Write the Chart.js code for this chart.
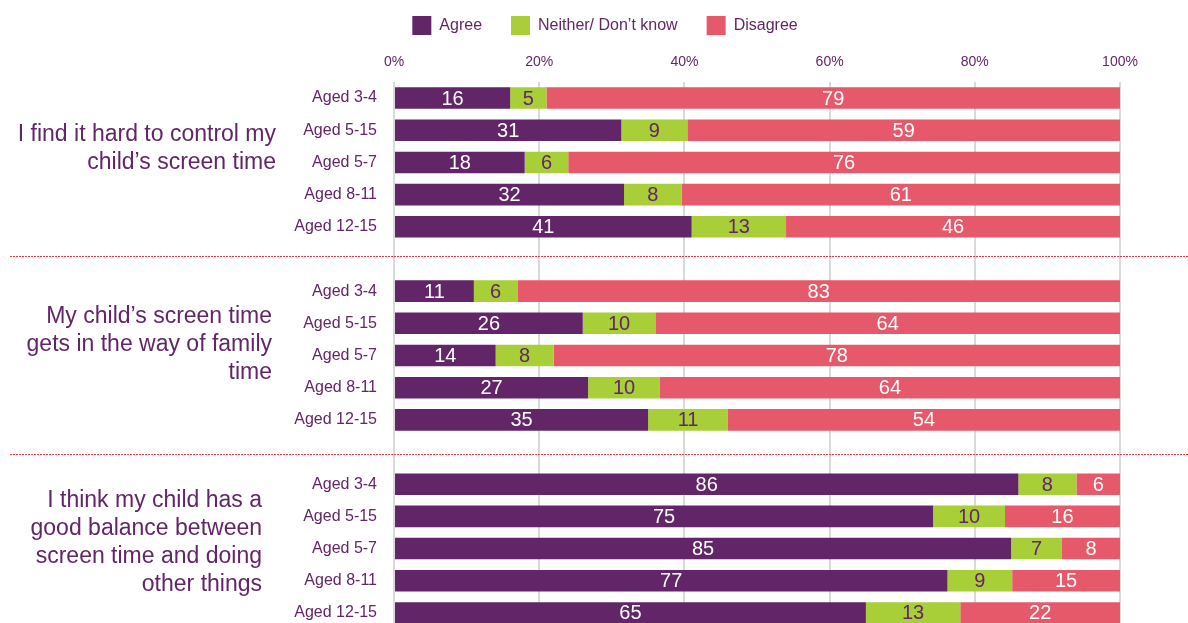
<!DOCTYPE html>
<html>
<head>
<meta charset="utf-8">
<script src="https://cdn.jsdelivr.net/npm/chart.js@4.4.1/dist/chart.umd.min.js"></script>
<style>
  html, body { margin: 0; padding: 0; overflow: hidden; background: #fff; }
</style>
</head>
<body>
<canvas id="chart" width="1188" height="630"></canvas>
<script>
// values, in percent
const ageGroups = ['Aged 3-4', 'Aged 5-15', 'Aged 5-7', 'Aged 8-11', 'Aged 12-15'];
const statements = [
  ['I find it hard to control my', 'child\u2019s screen time'],
  ['My child\u2019s screen time', 'gets in the way of family', 'time'],
  ['I think my child has a', 'good balance between', 'screen time and doing', 'other things']
];
const agree    = [16, 31, 18, 32, 41,  11, 26, 14, 27, 35,  86, 75, 85, 77, 65];
const neither  = [5, 9, 6, 8, 13,      6, 10, 8, 10, 11,    8, 10, 7, 9, 13];
const disagree = [79, 59, 76, 61, 46,  83, 64, 78, 64, 54,  6, 16, 8, 15, 22];
const xTicks = [0, 20, 40, 60, 80, 100];

const PURPLE = '#622567';
const GREEN = '#a8ce38';
const PINK = '#e6596a';

Chart.defaults.font.family = '"Liberation Sans", Arial, sans-serif';
Chart.defaults.color = PURPLE;

// 17 rows: 3 blocks of 5 with an empty row between them
const labels = [];
const rowIdx = []; // category index for each value
statements.forEach((s, g) => {
  if (g > 0) labels.push('');
  ageGroups.forEach(a => { rowIdx.push(labels.length); labels.push(a); });
});

// bars are drawn as 100% stacks, labels keep the printed numbers
function share(arr) {
  const out = labels.map(() => null);
  arr.forEach((v, i) => {
    const total = agree[i] + neither[i] + disagree[i];
    out[rowIdx[i]] = v / total * 100;
  });
  return out;
}
function raw(arr) {
  const out = labels.map(() => null);
  arr.forEach((v, i) => { out[rowIdx[i]] = v; });
  return out;
}

const valueLabels = {
  id: 'valueLabels',
  afterDatasetsDraw(chart) {
    const ctx = chart.ctx;
    ctx.save();
    ctx.font = '20px "Liberation Sans", Arial, sans-serif';
    ctx.textAlign = 'center';
    ctx.textBaseline = 'middle';
    chart.data.datasets.forEach((ds, di) => {
      const meta = chart.getDatasetMeta(di);
      meta.data.forEach((bar, i) => {
        const v = ds.printed[i];
        if (v == null) return;
        ctx.fillStyle = ds.labelColor;
        ctx.fillText(String(v), (bar.base + bar.x) / 2, bar.y + 1);
      });
    });
    ctx.restore();
  }
};

const blockDecor = {
  id: 'blockDecor',
  afterDraw(chart, args, opts) {
    const ctx = chart.ctx;
    const y = chart.scales.y;
    ctx.save();
    // dotted separators on the empty rows
    ctx.strokeStyle = '#e23a46';
    ctx.lineWidth = 1;
    ctx.setLineDash([2, 1]);
    let n = 0;
    labels.forEach((l, i) => {
      if (l !== '') return;
      const py = Math.round(y.getPixelForValue(i) + opts.sepShift[n++]) + 0.5;
      ctx.beginPath();
      ctx.moveTo(10, py);
      ctx.lineTo(chart.width, py);
      ctx.stroke();
    });
    ctx.setLineDash([]);
    // statement text to the left of each block
    ctx.fillStyle = PURPLE;
    ctx.font = '23px "Liberation Sans", Arial, sans-serif';
    ctx.textAlign = 'right';
    ctx.textBaseline = 'middle';
    statements.forEach((lines, g) => {
      const mid = y.getPixelForValue(g * 6 + 2);
      const top = mid + opts.offsets[g] - (lines.length - 1) * 14;
      lines.forEach((t, k) => ctx.fillText(t, opts.rightEdge[g], top + k * 28));
    });
    ctx.restore();
  }
};

new Chart(document.getElementById('chart'), {
  type: 'bar',
  data: {
    labels: labels,
    datasets: [
      { label: 'Agree', data: share(agree), printed: raw(agree), backgroundColor: PURPLE, labelColor: '#ffffff' },
      { label: 'Neither/ Don\u2019t know', data: share(neither), printed: raw(neither), backgroundColor: GREEN, labelColor: PURPLE },
      { label: 'Disagree', data: share(disagree), printed: raw(disagree), backgroundColor: PINK, labelColor: '#ffffff' }
    ]
  },
  options: {
    indexAxis: 'y',
    responsive: false,
    animation: false,
    categoryPercentage: 0.67,
    barPercentage: 1,
    layout: { padding: { left: 90, right: 68, top: -13, bottom: 1 } },
    plugins: {
      tooltip: { enabled: false },
      legend: {
        position: 'top',
        labels: { boxWidth: 19, boxHeight: 19, padding: 29, color: PURPLE, font: { size: 16 } }
      },
      blockDecor: { offsets: [-14, -11, -6], rightEdge: [276, 272, 262], sepShift: [-3, 2] }
    },
    scales: {
      x: {
        position: 'top',
        stacked: true,
        min: 0,
        max: 100,
        afterBuildTicks: s => { s.ticks = xTicks.map(v => ({ value: v })); },
        ticks: { callback: v => v + '%', color: PURPLE, font: { size: 14 }, padding: 11 },
        grid: { color: '#d9d9d9', lineWidth: 2, drawTicks: false },
        border: { display: false },
        afterFit: s => { s.height = 37; }
      },
      y: {
        stacked: true,
        grid: { display: false },
        border: { display: false },
        ticks: { color: PURPLE, font: { size: 16 }, padding: 9, autoSkip: false },
        afterFit: s => { s.width = 304; s.paddingTop = 0; s.paddingBottom = 0; }
      }
    }
  },
  plugins: [valueLabels, blockDecor]
});
</script>
</body>
</html>
